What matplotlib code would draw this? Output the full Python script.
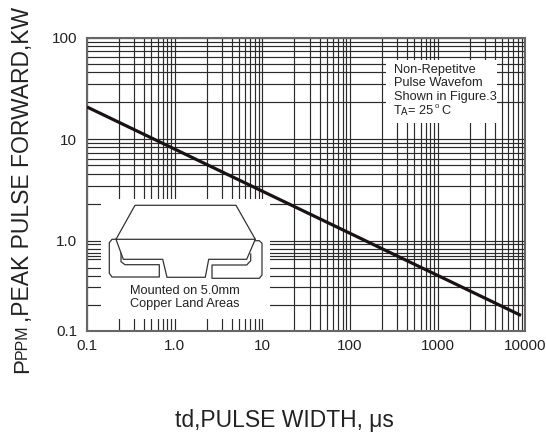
import matplotlib
matplotlib.use("Agg")

import matplotlib.pyplot as plt
import numpy as np
from matplotlib.patches import Rectangle

plt.rcParams["font.family"] = ["Liberation Sans", "DejaVu Sans"]

W, H = 546, 436

# curve
pulse_width = [0.1, 8800]
peak_power = [18.3, 0.15]

x_ticks = [0.1, 1, 10, 100, 1000, 10000]
y_ticks = [0.1, 1, 10, 100]
x_tick_labels = ["0.1", "1.0", "10", "100", "1000", "10000"]
y_tick_labels = ["0.1", "1.0", "10", "100"]

# the printed paper is not a true log scale, so the rulings sit at these
# fractions of a decade (for 1, 2, ... 10)
decade_multiples = np.arange(1, 11)
paper_steps_x = [0, .365, .54, .655, .735, .805, .865, .915, .96, 1]
paper_steps_y = [0, .365, .54, .66, .745, .81, .87, .92, .962, 1]
paper_steps_low = [0, .287, .485, .61, .70, .80, .87, .914, .963, 1]
y_decade_heights = [89.5, 101.7, 101.6]
extra_y_ruling = [0.65]  # one stray line on the paper

GRID = "#2b2b2b"


def px(x, y):
    return x / W, 1 - y / H


def paper_scale(decades, steps, widths):
    knots_v = []
    knots_p = []
    start = 0
    for d, st, w in zip(decades, steps, widths):
        knots_v += list(np.log10(d * decade_multiples))
        knots_p += list(start + w * np.array(st))
        start += w

    def fwd(v):
        v = np.maximum(np.asarray(v, dtype=float), 1e-9)
        return np.interp(np.log10(v), knots_v, knots_p)

    def inv(p):
        return 10 ** np.interp(p, knots_p, knots_v)

    return fwd, inv


fig = plt.figure(figsize=(W / 100, H / 100), dpi=100)
left, right, top, bottom = 87, 525.3, 37.7, 330.5
ax = fig.add_axes([left / W, 1 - bottom / H, (right - left) / W, (bottom - top) / H])

ax.set_xscale("function", functions=paper_scale([0.1, 1, 10, 100, 1000], [paper_steps_x] * 5, [1] * 5))
ax.set_yscale("function", functions=paper_scale([0.1, 1, 10], [paper_steps_low, paper_steps_y, paper_steps_y],
                                                y_decade_heights))
ax.set_xlim(0.1, 10000)
ax.set_ylim(0.1, 100)

x_minor = [d * m for d in [0.1, 1, 10, 100, 1000] for m in range(2, 10)]
y_minor = [d * m for d in [0.1, 1, 10] for m in range(2, 10)] + extra_y_ruling
ax.set_xticks(x_ticks, x_tick_labels)
ax.set_yticks(y_ticks, y_tick_labels)
ax.set_xticks(x_minor, minor=True)
ax.set_yticks(y_minor, minor=True)
ax.set_xticklabels([], minor=True)
ax.set_yticklabels([], minor=True)
ax.tick_params(which="both", length=0)
ax.tick_params(axis="x", labelsize=11, pad=6, colors="#222222")
ax.tick_params(axis="y", labelsize=11, pad=7, colors="#222222")
ax.grid(which="both", color=GRID, linewidth=0.85, zorder=1)
ax.set_axisbelow(True)
for s in ax.spines.values():
    s.set_color("#666666")
    s.set_linewidth(1.5)

# white patches over the rulings, for the inset and the note
for x0, y0, x1, y1 in [(100.7, 199.3, 270, 319), (386, 60, 496.7, 123)]:
    fig.add_artist(Rectangle(px(x0, y1), (x1 - x0) / W, (y1 - y0) / H, transform=fig.transFigure,
                             facecolor="white", edgecolor="none", zorder=3))

ax.plot(pulse_width, peak_power, color="#1a1212", linewidth=2.3, solid_capstyle="butt", zorder=5)

# package sketch, in its own little axes
sk = fig.add_axes([80 / W, 1 - 360 / H, 200 / W, 170 / H])
sk.set_xlim(0, 200)
sk.set_ylim(170, 0)
sk.axis("off")
sk.set_zorder(5)
body_top_x = [36, 55, 156, 175.3, 36]
body_top_y = [49.3, 15.3, 15.3, 49.3, 49.3]
body_low_x = [36, 43.3, 82.7, 87, 125.3, 128.7, 166.7, 175.3]
body_low_y = [49.3, 69.3, 69.3, 87.3, 87.3, 69.3, 69.3, 49.3]
lead_l_x = [36, 32, 29.3, 29.3, 32, 79.3, 79.3, 45, 41, 41]
lead_l_y = [49.3, 49.3, 52.7, 83.3, 87, 87, 74.7, 74.7, 71.7, 63.3]
lead_r_x = [175.3, 179.3, 182, 182, 179.3, 132, 132, 166.7, 170.7, 170.7]
lead_r_y = [50.7, 50.7, 53.3, 85, 88.3, 88.3, 75, 75, 70.7, 64]
for xs, ys in [(body_top_x, body_top_y), (body_low_x, body_low_y), (lead_l_x, lead_l_y), (lead_r_x, lead_r_y)]:
    sk.plot(xs, ys, color="#333333", linewidth=0.9, solid_joinstyle="round")


def label(x, y, s, size=9.2, **kw):
    fig.text(*px(x, y), s, fontsize=size, color="#222222", va="center", zorder=6, **kw)


label(185, 291, "Mounted on 5.0mm", ha="center")
label(185, 304.5, "Copper Land Areas", ha="center")

label(394, 70, "Non-Repetitve")
label(394, 83.5, "Pulse Wavefom")
label(394, 97, "Shown in Figure.3")
label(394, 111, "T")
label(400.5, 111.5, "A", size=7)
label(408, 111, "= 25")
label(441, 111, "C")
label(435, 107, "o", size=5.5)

# axis titles
fig.text(*px(175, 427), "td,PULSE WIDTH, \u03bcs", fontsize=16.5, color="#222222", ha="left", va="baseline")
ylab = dict(rotation=90, color="#222222", va="bottom", ha="center")
fig.text(*px(22.5, 373), "P", fontsize=16, **ylab)
fig.text(*px(30, 359), "PPM", fontsize=11.5, rotation=90, color="#222222", va="bottom", ha="right")
fig.text(*px(22.5, 322), ",PEAK PULSE FORWARD,KW", fontsize=16.5, **ylab)

fig.savefig("out.png", dpi=100)
